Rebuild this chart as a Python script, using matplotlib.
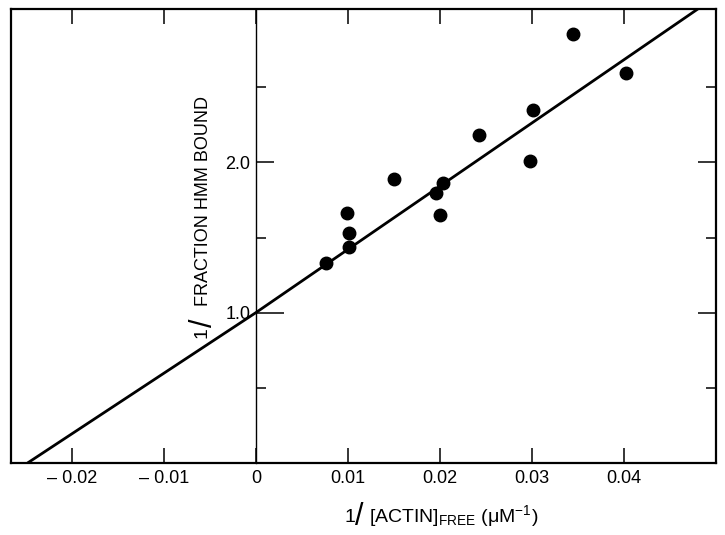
import numpy as np
import matplotlib
matplotlib.use("Agg")
import matplotlib.pyplot as plt
from matplotlib.ticker import FixedLocator

plt.rcParams['font.family'] = ['Liberation Sans', 'DejaVu Sans']
plt.rcParams['mathtext.fontset'] = 'custom'
plt.rcParams['mathtext.rm'] = 'Liberation Sans'
plt.rcParams['mathtext.it'] = 'Liberation Sans:italic'

# data
inv_actin = [0.0076, 0.0099, 0.0101, 0.0101, 0.0150, 0.0196, 0.0200,
             0.0203, 0.0242, 0.0298, 0.0301, 0.0345, 0.0402]
inv_fraction = [1.333, 1.66, 1.527, 1.44, 1.887, 1.793, 1.647,
                1.86, 2.18, 2.007, 2.347, 2.853, 2.593]

# fitted line, as drawn
fit_x = [-0.0248, 0.0, 0.0485]
fit_y = [0.0, 1.0, 3.04]

xticks = [-0.02, -0.01, 0, 0.01, 0.02, 0.03, 0.04]
xticklabels = ['\u2013 0.02', '\u2013 0.01', '0', '0.01', '0.02', '0.03', '0.04']
yticks_major = [1.0, 2.0]
yticks_minor = [0.5, 1.5, 2.5]
yticklabels = ['1.0', '2.0']

W, H = 725, 535
fig = plt.figure(figsize=(W / 100, H / 100), dpi=100)
ax = fig.add_axes([11 / W, 72 / H, 705 / W, 454 / H])

ax.plot(fit_x, fit_y, color='black', lw=2.0, solid_capstyle='butt')
ax.plot(inv_actin, inv_fraction, 'o', color='black', ms=9)

ax.set_xlim(-0.0266, 0.050)
ax.set_ylim(0, 3.02)

# left spine becomes the y axis through x = 0
ax.spines['left'].set_position(('data', 0))
ax.spines['left'].set_linewidth(1.0)
for s in ['top', 'right', 'bottom']:
    ax.spines[s].set_linewidth(1.6)
# outer left border of the frame
ax.plot([0, 0], [0, 1], transform=ax.transAxes, color='black', lw=1.6,
        clip_on=False)

ax.set_xticks(xticks)
ax.set_xticklabels(xticklabels)
ax.yaxis.set_major_locator(FixedLocator(yticks_major))
ax.yaxis.set_minor_locator(FixedLocator(yticks_minor))
ax.set_yticklabels(yticklabels)

ax.tick_params(axis='x', direction='in', top=True, bottom=True,
               length=11, width=1.1, labelsize=13, pad=5)
ax.tick_params(axis='y', which='major', direction='in', left=True,
               right=True, length=13, width=1.1, labelsize=13, pad=4)
ax.tick_params(axis='y', which='minor', direction='in', left=True,
               right=True, length=7, width=1.1)

# longer tick at 1.0 on the central axis
for t in ax.yaxis.get_major_ticks():
    if abs(t.get_loc() - 1.0) < 1e-9:
        t.tick1line.set_markersize(20)

# y label, rotated, with a large slash
fig.text(202 / W, 1 - 338 / H, '1', rotation=90, fontsize=14,
         ha='center', va='bottom')
fig.text(204 / W, 1 - 327 / H, '/', rotation=90, fontsize=22,
         ha='center', va='bottom')
fig.text(204 / W, 1 - 306 / H, 'FRACTION HMM BOUND', rotation=90,
         fontsize=13, ha='center', va='bottom')

# x label
fig.text(344 / W, 1 - 522 / H, '1', fontsize=14, ha='left', va='baseline')
fig.text(355 / W, 1 - 525 / H, '/', fontsize=22, ha='left', va='baseline')
fig.text(369 / W, 1 - 522 / H, '[ACTIN]$_{\\mathrm{FREE}}$ (\u03bcM$^{-1}$)',
         fontsize=14, ha='left', va='baseline')

fig.savefig('out.png', dpi=100)
